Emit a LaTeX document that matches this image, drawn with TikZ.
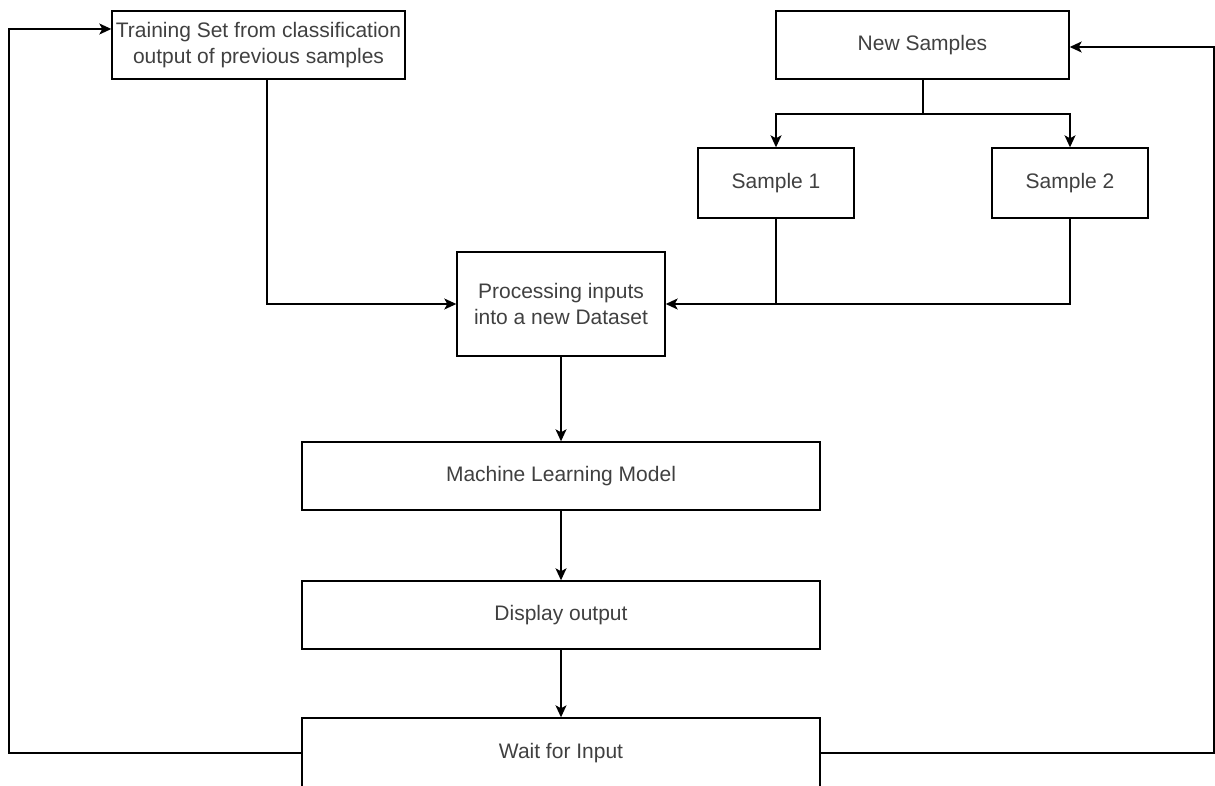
\documentclass[tikz,border=0pt]{standalone}
\usepackage{fontspec}
\setmainfont{Liberation Sans}
\usetikzlibrary{arrows.meta,calc}

\begin{document}
\begin{tikzpicture}[x=1pt,y=-1pt,
  box/.style={draw, line width=1.4pt, align=center, text=black!75,
    font=\fontsize{21}{26}\selectfont, inner sep=0pt},
  wide/.style={box, minimum width=518pt, minimum height=68pt},
  small/.style={box, minimum width=156pt, minimum height=70pt},
  link/.style={line width=1.4pt, -{Stealth[length=12pt,width=11pt,inset=3pt]}},
  plain/.style={line width=1.4pt}]
\useasboundingbox (0,0) rectangle (1215,786);

% process boxes
\node[box, minimum width=293pt, minimum height=68pt] (train) at (258.5,45)
  {Training Set from classification\\output of previous samples};
\node[box, minimum width=293pt, minimum height=68pt] (news) at (922.5,45) {New Samples};
\node[small] (s1) at (776,183) {Sample 1};
\node[small] (s2) at (1070,183) {Sample 2};
\node[box, minimum width=208pt, minimum height=104pt] (proc) at (561,304)
  {Processing inputs\\into a new Dataset};
\node[wide] (ml) at (561,476) {Machine Learning Model};
\node[wide] (disp) at (561,615) {Display output};
\node[wide, minimum height=70pt] (wait) at (561,753) {Wait for Input};

% routing points
\coordinate (lx) at (9,29);
\coordinate (rx) at (1214,47);
\coordinate (tx) at (267,304);
\coordinate (br) at (923,114);

% feedback loops
\draw[link] (wait.west) -| (lx) -- (train.west |- lx);
\draw[link] (wait.east) -| (rx) -- (news.east |- rx);

% inputs into processing
\draw[link] (train.south -| tx) |- (proc.west);
\draw[plain] (news.south -| br) -- (br);
\draw[link] (br) -| (s1.north);
\draw[link] (br) -| (s2.north);
\draw[plain] (s1.south) -- (s1.south |- proc.east);
\draw[link] (s2.south) |- (proc.east);

% main flow
\draw[link] (proc.south) -- (ml.north);
\draw[link] (ml.south) -- (disp.north);
\draw[link] (disp.south) -- (wait.north);
\end{tikzpicture}
\end{document}
